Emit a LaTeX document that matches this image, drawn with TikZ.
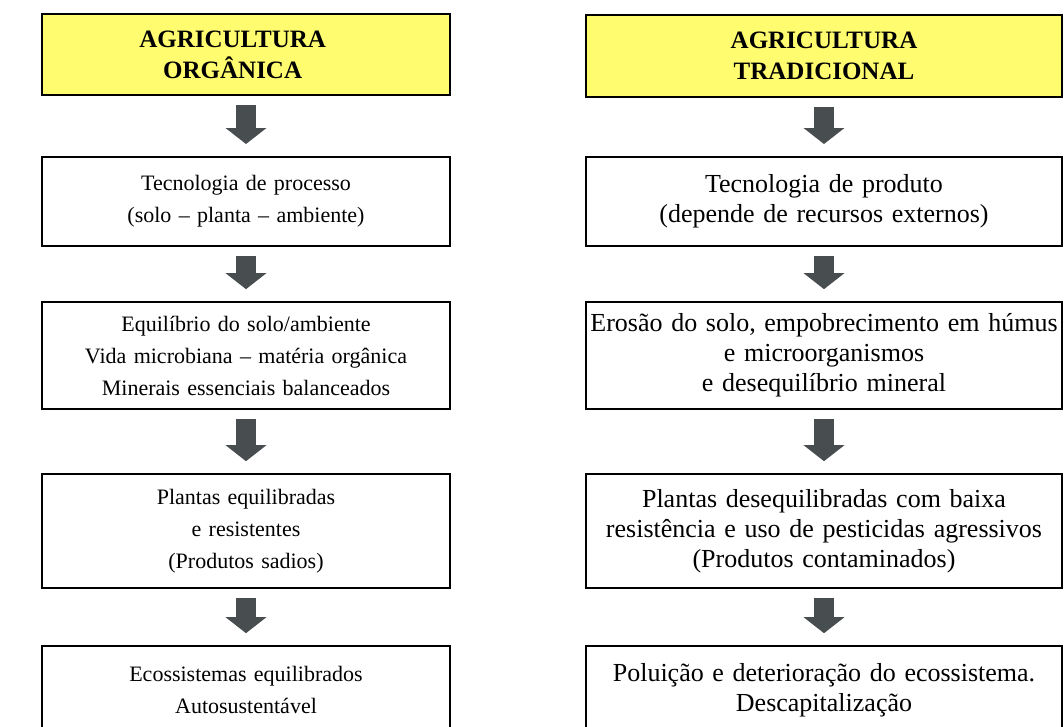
\documentclass[tikz,border=0pt]{standalone}
\usepackage{fontspec}
\setmainfont{Liberation Serif}
\usetikzlibrary{arrows.meta}
\definecolor{amarelo}{RGB}{255,252,112}
\definecolor{cinzaseta}{RGB}{72,78,80}

\begin{document}
\begin{tikzpicture}[x=1pt,y=1pt,
   caixa/.style={draw=black, line width=1.2pt, inner sep=0pt, align=center},
   esq/.style={caixa, minimum width=306pt, text width=300pt, font=\fontsize{16.5}{24}\selectfont},
   dir/.style={caixa, minimum width=357pt, text width=352pt, font=\fontsize{19.5}{22.5}\selectfont},
   titulo/.style={fill=amarelo, font=\bfseries\fontsize{18.75}{23}\selectfont},
   seta/.style={draw=cinzaseta, line width=15pt, -{Triangle[width=30pt,length=12pt]},
      shorten <=6.75pt, shorten >=9pt}]
   \clip (0,0) rectangle (798,-544.5);

   % agricultura organica
   \node[esq, titulo, minimum height=60.75pt] (o1) at (184.5,-41) {\hspace*{-20pt}AGRICULTURA\\\hspace*{-20pt}ORGÂNICA};
   \node[esq, minimum height=66.75pt] (o2) at (184.5,-151) {Tecnologia de processo\\(solo – planta – ambiente)};
   \node[esq, minimum height=80.25pt] (o3) at (184.5,-266.6) {Equilíbrio do solo/ambiente\\Vida microbiana – matéria orgânica\\Minerais essenciais balanceados};
   \node[esq, minimum height=85.5pt] (o4) at (184.5,-398.25) {Plantas equilibradas\\e resistentes\\(Produtos sadios)};
   \node[esq, minimum height=66pt] (o5) at (184.5,-517.5) {Ecossistemas equilibrados\\Autosustentável};

   % agricultura tradicional
   \node[dir, titulo, minimum height=61.5pt] (t1) at (618,-42) {AGRICULTURA\\TRADICIONAL};
   \node[dir, minimum height=66.75pt] (t2) at (618,-151) {Tecnologia de produto\\(depende de recursos externos)};
   \node[dir, minimum height=80.25pt] (t3) at (618,-266.6) {Erosão do solo, empobrecimento em húmus\\e microorganismos\\e desequilíbrio mineral};
   \node[dir, minimum height=85.5pt] (t4) at (618,-398.25) {Plantas desequilibradas com baixa\\resistência e uso de pesticidas agressivos\\(Produtos contaminados)};
   \node[dir, minimum height=66pt] (t5) at (618,-517.5) {Poluição e deterioração do ecossistema.\\Descapitalização};

   \foreach \a/\b in {1/2,2/3,3/4,4/5}{
      \draw[seta] (o\a.south) -- (o\b.north);
      \draw[seta] (t\a.south) -- (t\b.north);
   }
\end{tikzpicture}
\end{document}
